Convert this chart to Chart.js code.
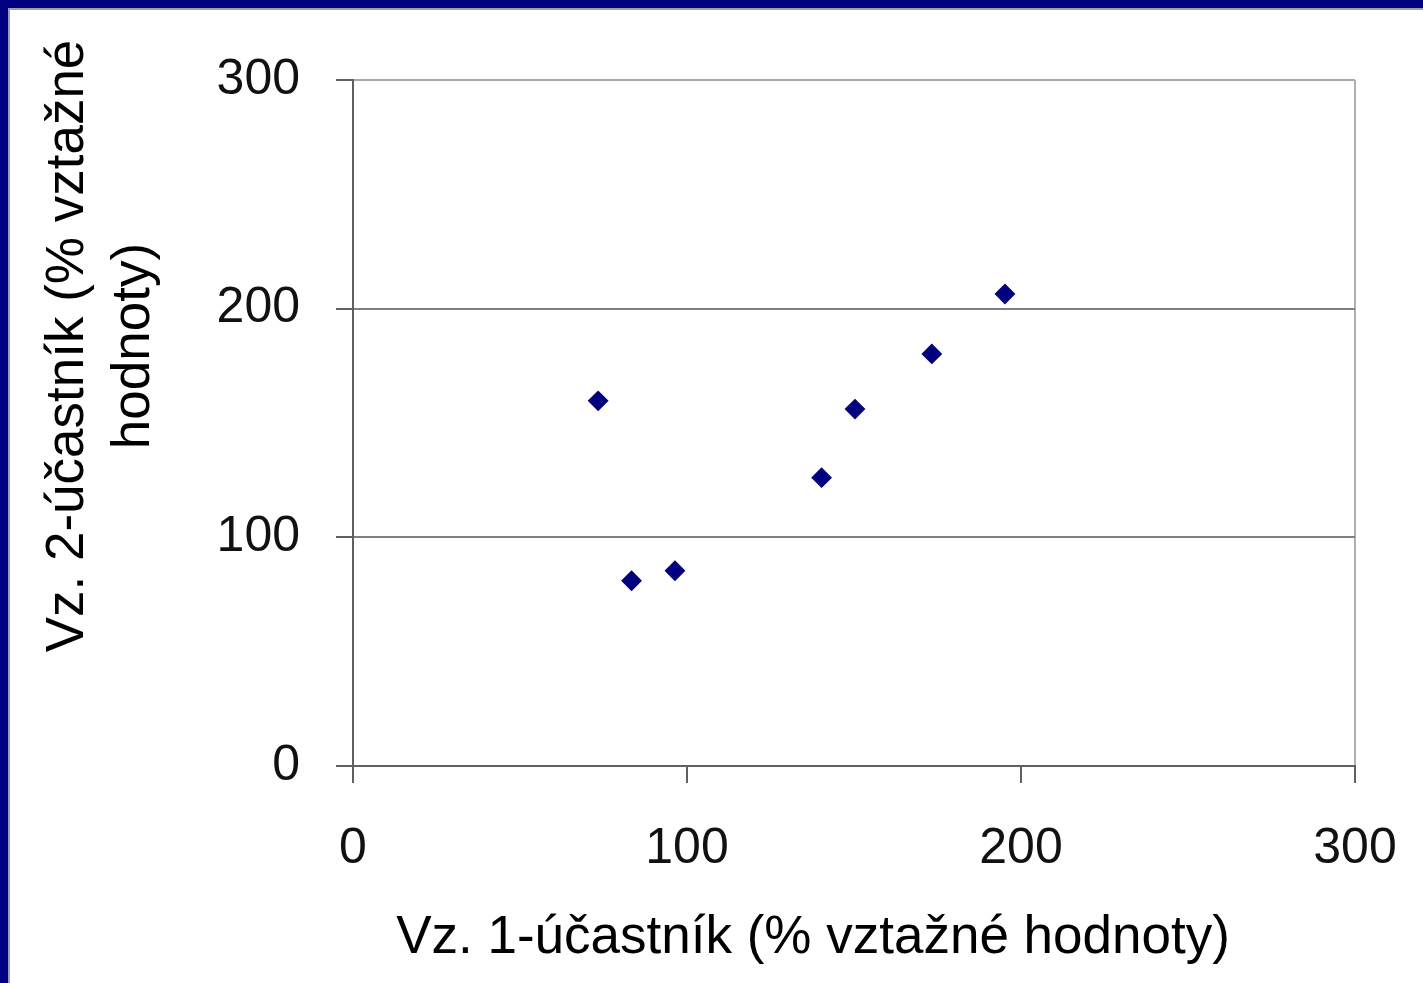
<!DOCTYPE html>
<html>
<head>
<meta charset="utf-8">
<script src="https://cdn.jsdelivr.net/npm/chart.js@4"></script>
<style>
  html, body { margin: 0; padding: 0; background: #fff; overflow: hidden; }
  #frame {
    position: absolute; left: 0; top: 0; width: 1423px; height: 983px;
    box-sizing: border-box;
    border-top: 8px solid #000080; border-left: 8px solid #000080;
  }
  #inner {
    width: 100%; height: 100%; box-sizing: border-box;
    border-top: 2px solid #a0a0a0; border-left: 2px solid #a0a0a0;
  }
  canvas { display: block; }
</style>
</head>
<body>
<div id="frame"><div id="inner"><canvas id="chart" width="1413" height="973"></canvas></div></div>
<script>
// values (% of reference value)
const participant1 = [73.4, 83.4, 96.4, 140.3, 150.3, 173.3, 195.2];
const participant2 = [159.7, 81.0, 85.4, 126.1, 156.1, 180.2, 206.4];
const xTicks = [0, 100, 200, 300];
const yTicks = [0, 100, 200, 300];
const xTitle = "Vz. 1-účastník (% vztažné hodnoty)";
const yTitle = ["Vz. 2-účastník (% vztažné", "hodnoty)"];

const FONT = "'Liberation Sans', Arial, sans-serif";

// axis titles sit off-centre in the original, so draw them ourselves
const axisTitles = {
    id: "axisTitles",
    afterDraw(chart) {
        const ctx = chart.ctx;
        const a = chart.chartArea;
        ctx.save();
        ctx.fillStyle = "#000";
        ctx.font = "53px " + FONT;
        ctx.textAlign = "center";
        ctx.textBaseline = "alphabetic";
        ctx.fillText(xTitle, a.left + 460, a.bottom + 187);
        const cy = a.top + 266;
        [73, 139].forEach((bx, i) => {
            ctx.save();
            ctx.translate(bx, cy);
            ctx.rotate(-Math.PI / 2);
            ctx.fillText(yTitle[i], 0, 0);
            ctx.restore();
        });
        ctx.restore();
    }
};

new Chart(document.getElementById("chart"), {
    type: "scatter",
    data: {
        datasets: [{
            data: participant1.map((x, i) => ({ x: x, y: participant2[i] })),
            pointStyle: "rectRot",
            pointRadius: 9,
            borderWidth: 2,
            backgroundColor: "#000080",
            borderColor: "#000080"
        }]
    },
    options: {
        responsive: false,
        animation: false,
        layout: { padding: { left: 0, top: 70, right: 0, bottom: 0 } },
        plugins: { legend: { display: false }, tooltip: { enabled: false } },
        scales: {
            x: {
                type: "linear", min: 0, max: 300,
                afterBuildTicks: s => { s.ticks = xTicks.map(v => ({ value: v })); },
                afterFit: s => { s.height = 217; s.paddingRight = 68; s.paddingLeft = 0; },
                border: { color: "#606060", width: 2 },
                grid: {
                    lineWidth: 2,
                    tickLength: 17,
                    tickColor: "#606060",
                    color: c => c.tick && c.tick.value === 300 ? "#b0b0b0" : "rgba(0,0,0,0)"
                },
                ticks: { padding: 36, color: "#111", font: { family: FONT, size: 50 } }
            },
            y: {
                type: "linear", min: 0, max: 300,
                afterBuildTicks: s => { s.ticks = yTicks.map(v => ({ value: v })); },
                afterFit: s => { s.width = 343; },
                border: { color: "#606060", width: 2 },
                grid: {
                    lineWidth: 2,
                    tickLength: 17,
                    tickColor: "#606060",
                    color: c => {
                        if (!c.tick) return "#808080";
                        if (c.tick.value === 0) return "rgba(0,0,0,0)";
                        if (c.tick.value === 300) return "#a8a8a8";
                        return "#808080";
                    }
                },
                ticks: { padding: 36, color: "#111", font: { family: FONT, size: 50 } }
            }
        }
    },
    plugins: [axisTitles]
});
</script>
</body>
</html>
